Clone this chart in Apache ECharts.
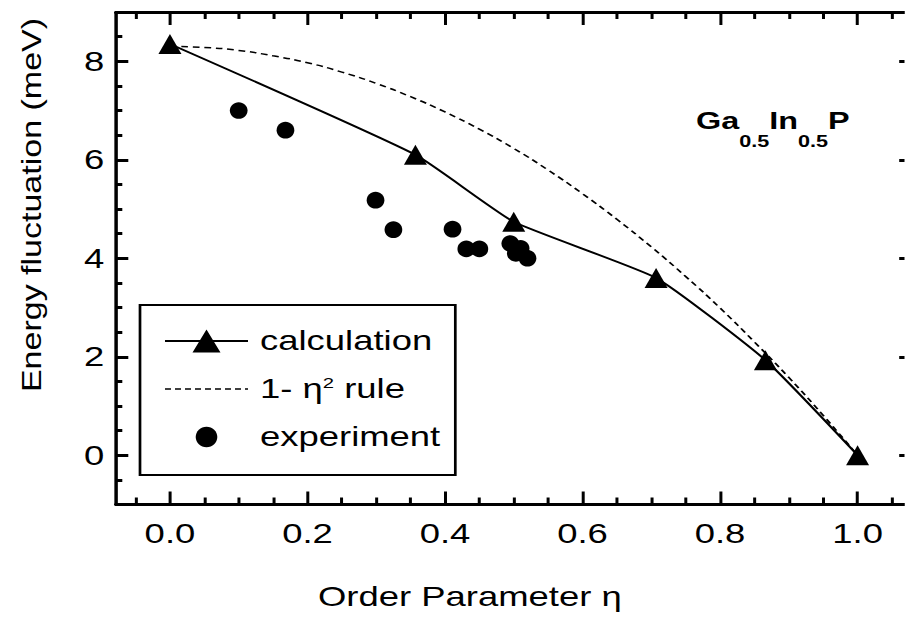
<!DOCTYPE html>
<html><head><meta charset="utf-8">
<script src="https://cdn.jsdelivr.net/npm/echarts@6/dist/echarts.min.js"></script>
<style>
html,body{margin:0;padding:0;background:#fff;overflow:hidden;}
#wrap{width:905px;height:626px;overflow:hidden;position:relative;background:#fff;}
#chart{position:absolute;left:0;top:0;height:626px;transform-origin:0 0;}
</style></head>
<body><div id="wrap"><div id="chart"></div></div>
<script>
// ---- data ----
const calcEta = [0.0, 0.357, 0.5, 0.707, 0.866, 1.0];
const calcE   = [8.35, 6.1, 4.74, 3.6, 1.93, 0.0];

const ruleEta = [0.0, 0.05, 0.1, 0.15, 0.2, 0.25, 0.3, 0.35, 0.4, 0.45, 0.5, 0.55, 0.6, 0.65, 0.7, 0.75, 0.8, 0.85, 0.9, 0.95, 1.0];
const ruleE   = [8.30, 8.28, 8.22, 8.11, 7.97, 7.78, 7.55, 7.28, 6.97, 6.62, 6.23, 5.79, 5.31, 4.79, 4.23, 3.63, 2.99, 2.30, 1.58, 0.81, 0.0];

const expEta = [0.100, 0.168, 0.299, 0.325, 0.411, 0.431, 0.450, 0.495, 0.503, 0.510, 0.520];
const expE   = [7.0, 6.6, 5.18, 4.58, 4.59, 4.19, 4.19, 4.3, 4.1, 4.2, 4.0];

const xTickLabels = [0.0, 0.2, 0.4, 0.6, 0.8, 1.0];
const yTickLabels = [0, 2, 4, 6, 8];
const seriesNames = ['calculation', '1- η² rule', 'experiment'];

// ---- layout / style ----
const S = 1.35;            // horizontal stretch of the original figure's lettering
const W = 905 / S;
const ix = v => v / S;     // display px -> inner px (horizontal)
const FONT = '"Liberation Sans", Arial, Helvetica, sans-serif';
const X_MIN = -0.078, X_MAX = 1.078, Y_MIN = -1, Y_MAX = 9;

const el = document.getElementById('chart');
el.style.width = W + 'px';
el.style.transform = 'scaleX(' + S + ')';

const xMinor = [], yMinor = [];
for (let k = -1; k <= 21; k++) if (k % 4 !== 0) xMinor.push(+(k * 0.05).toFixed(2));
for (let k = -1; k <= 17; k++) if (k % 4 !== 0) yMinor.push(+(k * 0.5).toFixed(1));

function xAxisCfg(pos, values, len, withLabel) {
  const a = {
    type: 'value', position: pos, min: X_MIN, max: X_MAX,
    axisLine: {show: true, onZero: false, lineStyle: {color: '#000', width: 3}},
    axisTick: {show: true, inside: true, length: len, customValues: values, lineStyle: {color: '#000', width: 3 / S}},
    axisLabel: {show: false},
    splitLine: {show: false}
  };
  if (withLabel) {
    a.axisLabel = {show: true, customValues: xTickLabels, formatter: v => v.toFixed(1),
      fontFamily: FONT, fontSize: 27, color: '#000', margin: 16};
    a.name = 'Order Parameter η';
    a.nameLocation = 'middle';
    a.nameGap = 79;
    a.nameTextStyle = {fontFamily: FONT, fontSize: 27, color: '#000', padding: [0, 65, 0, 0]};
  }
  return a;
}
function yAxisCfg(pos, values, len, withLabel) {
  const a = {
    type: 'value', position: pos, min: Y_MIN, max: Y_MAX,
    axisLine: {show: true, onZero: false, lineStyle: {color: '#000', width: 3 / S}},
    axisTick: {show: true, inside: true, length: len, customValues: values, lineStyle: {color: '#000', width: 3}},
    axisLabel: {show: false},
    splitLine: {show: false}
  };
  if (withLabel) {
    a.axisLabel = {show: true, customValues: yTickLabels, formatter: v => String(v),
      fontFamily: FONT, fontSize: 27, color: '#000', margin: ix(12)};
  }
  return a;
}

// legend icons (inner units): width IW, height IH
const IW = ix(83), IH = 27, CX = IW / 2, CY = IH / 2;
const anchors = `M0 0 M${IW} ${IH} `;
const calcIcon = 'path://' + anchors +
  `M0 ${CY - 0.9} L${IW} ${CY - 0.9} L${IW} ${CY + 0.9} L0 ${CY + 0.9} Z ` +
  `M${CX} ${CY - 11.5} L${CX + ix(14)} ${CY + 11.5} L${CX - ix(14)} ${CY + 11.5} Z`;
let dashPath = anchors;
for (let d = 0; d < IW; d += ix(10)) {
  const e = Math.min(d + ix(6), IW);
  dashPath += `M${d} ${CY - 0.8} L${e} ${CY - 0.8} L${e} ${CY + 0.8} L${d} ${CY + 0.8} Z `;
}
const ruleIcon = 'path://' + dashPath;
function ellipsePath(cx, cy, rx, ry) {
  const k = 0.5523;
  return `M${cx} ${cy - ry} C${cx + k * rx} ${cy - ry} ${cx + rx} ${cy - k * ry} ${cx + rx} ${cy} ` +
    `C${cx + rx} ${cy + k * ry} ${cx + k * rx} ${cy + ry} ${cx} ${cy + ry} ` +
    `C${cx - k * rx} ${cy + ry} ${cx - rx} ${cy + k * ry} ${cx - rx} ${cy} ` +
    `C${cx - rx} ${cy - k * ry} ${cx - k * rx} ${cy - ry} ${cx} ${cy - ry} Z`;
}
const expIcon = 'path://' + anchors + ellipsePath(CX, CY, ix(10.8), 10.2);
const dotSymbol = 'path://' + ellipsePath(0, 0, 1, 1);

const chart = echarts.init(el, null, {renderer: 'svg'});
chart.setOption({
  animation: false,
  backgroundColor: '#fff',
  grid: {left: ix(116.3), right: W - ix(911.7), top: 12, bottom: 121.5, containLabel: false, outerBoundsMode: 'none'},
  xAxis: [
    xAxisCfg('bottom', xTickLabels, 13, true),
    xAxisCfg('bottom', xMinor, 7, false),
    xAxisCfg('top', xTickLabels, 13, false),
    xAxisCfg('top', xMinor, 7, false)
  ],
  yAxis: [
    yAxisCfg('left', yTickLabels, ix(12), true),
    yAxisCfg('left', yMinor, ix(6), false),
    yAxisCfg('right', yTickLabels, ix(12), false),
    yAxisCfg('right', yMinor, ix(6), false)
  ],
  legend: {
    orient: 'vertical', left: ix(140), top: 305,
    itemWidth: IW, itemHeight: IH, itemGap: 21,
    padding: [22.5, ix(15), 24.5, ix(25)],
    borderColor: '#000', borderWidth: 2,
    symbolKeepAspect: false, selectedMode: false,
    itemStyle: {borderWidth: 0},
    textStyle: {fontFamily: FONT, fontSize: 27, color: '#000', lineHeight: 27,
      padding: [0, 0, 0, ix(12) - 5],
      rich: {sup: {fontFamily: FONT, fontSize: 15, color: '#000', lineHeight: 15, verticalAlign: 'top'}}},
    formatter: n => n.replace('²', '{sup|2}'),
    data: [
      {name: seriesNames[0], icon: calcIcon},
      {name: seriesNames[1], icon: ruleIcon},
      {name: seriesNames[2], icon: expIcon}
    ]
  },
  graphic: [
    {type: 'text', x: ix(696), y: 109, z: 10,
      style: {text: '{b|Ga}{s|0.5}{b|In}{s|0.5}{b|P}', align: 'left', verticalAlign: 'top',
        rich: {
          b: {fontFamily: FONT, fontWeight: 'bold', fontSize: 24, lineHeight: 41, verticalAlign: 'top', fill: '#000'},
          s: {fontFamily: FONT, fontWeight: 'bold', fontSize: 16, lineHeight: 41, verticalAlign: 'bottom', fill: '#000'}
        }}},
    {type: 'text', x: ix(32), y: 205, rotation: Math.PI / 2, scaleX: 1.26, scaleY: 0.77, z: 10,
      style: {text: 'Energy fluctuation (meV)', fontFamily: FONT, fontSize: 27, fill: '#000',
        align: 'center', verticalAlign: 'middle'}}
  ],
  series: [
    {name: seriesNames[0], type: 'line', xAxisIndex: 0, yAxisIndex: 0,
      data: calcEta.map((x, i) => [x, calcE[i]]),
      symbol: 'triangle', symbolSize: [ix(23), 20], smooth: 0.15,
      lineStyle: {color: '#000', width: 1.8}, itemStyle: {color: '#000', borderWidth: 0}, z: 4},
    {name: seriesNames[1], type: 'line', xAxisIndex: 0, yAxisIndex: 0,
      data: ruleEta.map((x, i) => [x, ruleE[i]]),
      symbol: 'none', smooth: true,
      lineStyle: {color: '#000', width: 1.5, type: [5, 3.5]}, itemStyle: {color: '#000', borderWidth: 0}, z: 3},
    {name: seriesNames[2], type: 'scatter', xAxisIndex: 0, yAxisIndex: 0,
      data: expEta.map((x, i) => [x, expE[i]]),
      symbol: dotSymbol, symbolKeepAspect: false, symbolSize: [ix(17.7), 16.7],
      itemStyle: {color: '#000', borderWidth: 0, opacity: 1}, z: 5}
  ]
});
</script>
</body></html>
